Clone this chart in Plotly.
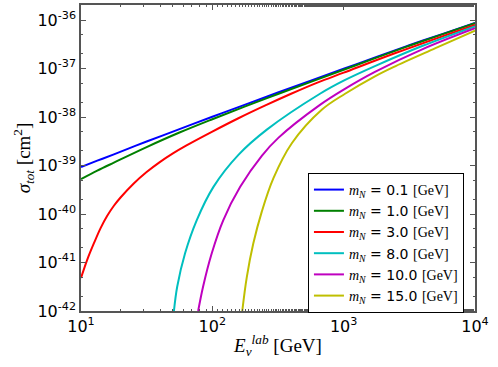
import plotly.graph_objects as go
import numpy as np

# neutrino energy (GeV) and log10 of total cross-section (cm^2)
e_light = [10, 13.3, 17.8, 31.6, 56.2, 100, 178, 316, 562, 1000, 1780, 3160, 5620, 10000]
logsig_01 = [-39.03, -38.90, -38.77, -38.505, -38.25, -37.995, -37.745, -37.495, -37.25,
             -37.005, -36.76, -36.52, -36.29, -36.06]
logsig_1 = [-39.28, -39.105, -38.94, -38.62, -38.32, -38.045, -37.78, -37.525, -37.275,
            -37.025, -36.775, -36.53, -36.295, -36.065]

e_3 = [10, 11.2, 12.6, 14.1, 15.8, 17.8, 20, 25.1, 31.6, 39.8, 50.1, 63.1, 100, 158, 251,
       398, 631, 1000, 2512, 10000]
logsig_3 = [-41.32, -40.93, -40.59, -40.29, -40.04, -39.83, -39.66, -39.375, -39.135, -38.93,
            -38.75, -38.59, -38.30, -38.025, -37.765, -37.52, -37.29, -37.085, -36.675, -36.10]

e_8 = [51, 54, 62, 76, 102, 158, 260, 660, 1000, 1730, 4000, 10000]
logsig_8 = [-42.0, -41.50, -40.81, -40.13, -39.44, -38.78, -38.26, -37.52, -37.25, -36.95,
            -36.53, -36.13]

e_10 = [78, 85, 99, 121, 163, 238, 318, 660, 1000, 1730, 4000, 10000]
logsig_10 = [-42.0, -41.50, -40.81, -40.13, -39.44, -38.80, -38.43, -37.75, -37.435, -37.07,
             -36.60, -36.17]

e_15 = [169, 183, 205, 238, 292, 403, 681, 1025, 1730, 2390, 5000, 10000]
logsig_15 = [-42.0, -41.30, -40.61, -39.95, -39.26, -38.54, -37.85, -37.52, -37.16, -36.97,
             -36.58, -36.22]

masses = ["0.1", "1.0", "3.0", "8.0", "10.0", "15.0"]
energies = [e_light, e_light, e_3, e_8, e_10, e_15]
logsigmas = [logsig_01, logsig_1, logsig_3, logsig_8, logsig_10, logsig_15]
colors = ["#0000ff", "#008000", "#ff0000", "#00bfbf", "#bf00bf", "#bfbf00"]

x_ticks = [1e1, 1e2, 1e3, 1e4]
y_ticks = [1e-42, 1e-41, 1e-40, 1e-39, 1e-38, 1e-37, 1e-36]

SERIF = "Liberation Serif"

fig = go.Figure()
for m, e, ls, c in zip(masses, energies, logsigmas, colors):
    name = (f"<span style=\"font-family:'{SERIF}'\"><i>m<sub>N</sub></i></span> = {m} "
            f"<span style=\"font-family:'{SERIF}'\">[GeV]</span>")
    fig.add_trace(go.Scatter(
        x=e, y=10 ** np.array(ls),
        mode="lines",
        line=dict(color=c, width=2, shape="spline", smoothing=1.0),
        name=name,
    ))

axis_common = dict(
    type="log",
    automargin=False,
    showgrid=False,
    zeroline=False,
    showline=True,
    linecolor="#555555",
    linewidth=1.5,
    mirror="ticks",
    ticks="inside",
    ticklen=5,
    tickcolor="#555555",
    tickfont=dict(family="DejaVu Sans", size=16, color="black"),
    minor=dict(ticks="inside", ticklen=2.5, tickcolor="#555555", showgrid=False),
)

fig.update_layout(
    width=498,
    height=367,
    margin=dict(l=81, r=23, t=5, b=56),
    paper_bgcolor="white",
    plot_bgcolor="white",
    font=dict(family="DejaVu Sans", color="black"),
    xaxis=dict(
        axis_common,
        range=[1, 4],
        tickvals=x_ticks,
        ticktext=["10<sup>1</sup>", "10<sup>2</sup>", "10<sup>3</sup>", "10<sup>4</sup>"],
        title=dict(text="<i>E</i><sub><i>ν</i></sub><sup><i>lab</i></sup> [GeV]",
                   font=dict(family=SERIF, size=19), standoff=4),
    ),
    yaxis=dict(
        axis_common,
        range=[-42, -35.69],
        tickvals=y_ticks,
        ticktext=[f"10<sup>{k}</sup>" for k in range(-42, -35)],
        title=dict(text="<i>σ</i><sub><i>tot</i></sub> [cm<sup>2</sup>]",
                   font=dict(family=SERIF, size=19), standoff=2),
    ),
    legend=dict(
        x=0.576, y=0.451, xanchor="left", yanchor="top",
        bgcolor="white",
        bordercolor="black",
        borderwidth=1,
        font=dict(family="DejaVu Sans", size=14, color="black"),
        itemwidth=30,
        tracegroupgap=0,
    ),
)

fig.write_html("out.html", config=dict(displayModeBar=False),
               post_script="document.body.style.margin='0px';")
